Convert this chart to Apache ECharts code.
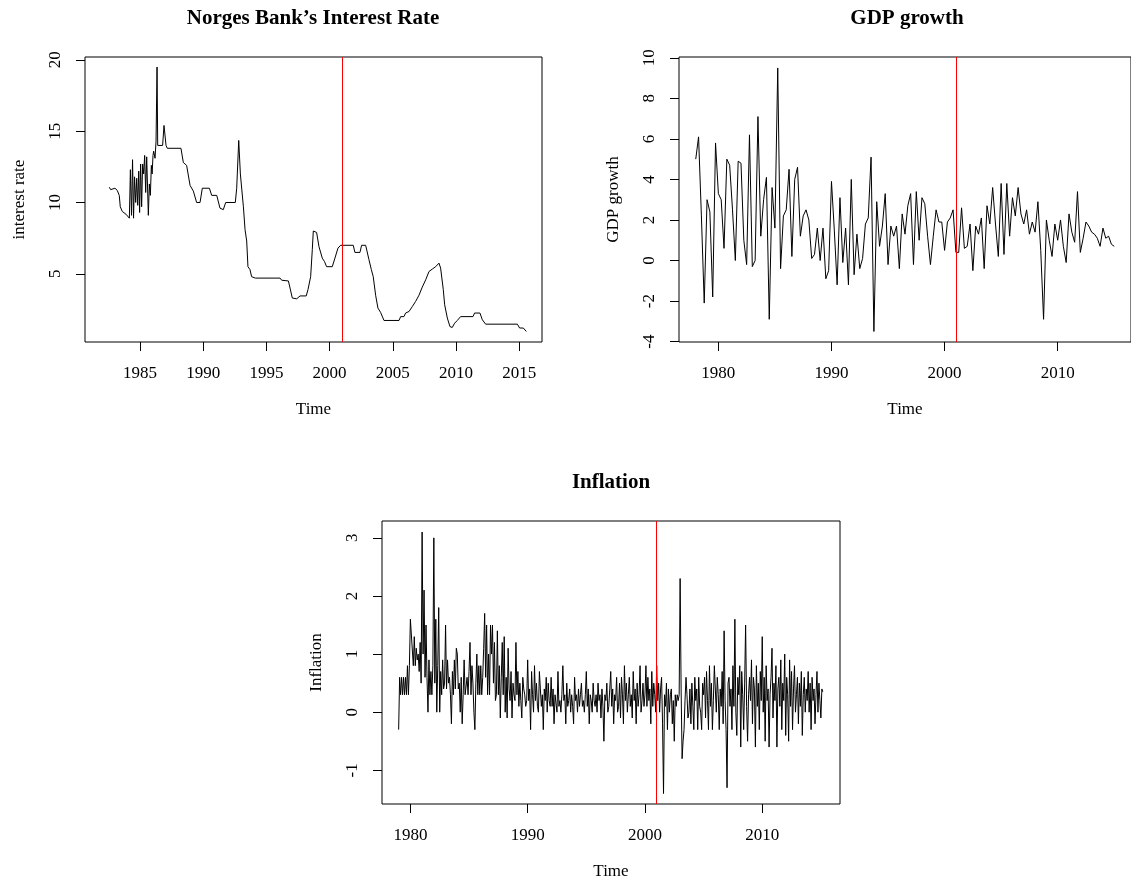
<!DOCTYPE html>
<html>
<head>
<meta charset="utf-8">
<title>Norges Bank</title>
<script src="https://cdn.jsdelivr.net/npm/echarts@6/dist/echarts.min.js"></script>
<style>
  html, body { margin: 0; padding: 0; background: #fff; }
  #main { width: 1131px; height: 881px; }
</style>
</head>
<body>
<div id="main"></div>
<script>
// Norges Bank's interest rate, read at its turning points (year, percent)
var rateTime = [1982.57, 1982.68, 1982.78, 1983.02, 1983.2, 1983.36, 1983.44, 1983.52, 1983.6, 1983.73, 1983.89,
  1984.16, 1984.24, 1984.33, 1984.41, 1984.49, 1984.57, 1984.66, 1984.74, 1984.82, 1984.9, 1984.97,
  1985.05, 1985.13, 1985.21, 1985.29, 1985.37, 1985.45, 1985.53, 1985.66, 1985.74, 1985.82, 1985.9, 1985.96,
  1986.03, 1986.08, 1986.19, 1986.27, 1986.35, 1986.4, 1986.79, 1986.9, 1987.06, 1987.16,
  1988.24, 1988.43, 1988.69, 1988.96, 1989.22, 1989.48, 1989.75, 1989.93, 1990.49, 1990.67,
  1991.07, 1991.33, 1991.59, 1991.78, 1992.54, 1992.65, 1992.81, 1992.94, 1993.18, 1993.31, 1993.44,
  1993.54, 1993.7, 1993.83, 1993.97, 1994.12, 1996.08, 1996.21, 1996.74, 1996.87, 1997.05, 1997.4, 1997.66,
  1998.15, 1998.29, 1998.5, 1998.63, 1998.71, 1998.97, 1999.16, 1999.42, 1999.6, 1999.76,
  2000.21, 2000.42, 2000.66, 2000.87, 2001.87, 2002.0, 2002.4, 2002.53, 2002.85,
  2003.11, 2003.3, 2003.45, 2003.64, 2003.82, 2004.03, 2004.3, 2005.49, 2005.62, 2005.88,
  2006.01, 2006.28, 2006.54, 2006.8, 2007.07, 2007.33, 2007.6, 2007.86, 2008.12, 2008.39, 2008.65, 2008.78, 2008.99,
  2009.1, 2009.31, 2009.52, 2009.7, 2009.89, 2010.1, 2010.36, 2011.34, 2011.47, 2011.89,
  2012.08, 2012.34, 2014.85, 2015.03, 2015.32, 2015.56];
var rateValue = [11.07, 10.9, 11.0, 11.0, 10.85, 10.5, 9.7, 9.6, 9.37, 9.25, 9.18,
  8.9, 12.3, 9.1, 13.0, 8.9, 11.8, 10.0, 11.7, 9.8, 12.2, 9.3,
  12.7, 9.7, 12.7, 12.0, 13.3, 10.7, 13.2, 9.1, 11.3, 10.5, 12.6, 12.0,
  13.3, 13.6, 13.1, 14.3, 19.5, 14.0, 14.0, 15.4, 14.0, 13.8,
  13.8, 12.8, 12.6, 11.2, 10.8, 10.0, 10.0, 11.0, 11.0, 10.5,
  10.5, 9.6, 9.5, 10.0, 10.0, 11.0, 14.35, 12.0, 9.7, 8.1, 7.3,
  5.5, 5.3, 4.8, 4.9, 4.7, 4.7, 4.55, 4.5, 4.0, 3.3, 3.25, 3.45,
  3.45, 3.9, 4.8, 6.7, 8.0, 7.9, 6.9, 6.1, 5.85, 5.5,
  5.5, 6.1, 6.8, 7.0, 7.0, 6.5, 6.5, 7.0, 7.0,
  6.0, 5.3, 4.8, 3.5, 2.6, 2.3, 1.73, 1.73, 2.0, 2.0,
  2.25, 2.36, 2.7, 3.06, 3.5, 4.07, 4.58, 5.16, 5.33, 5.5, 5.75, 5.4, 3.9,
  2.83, 1.9, 1.3, 1.24, 1.54, 1.73, 2.0, 2.0, 2.25, 2.25,
  1.78, 1.47, 1.47, 1.2, 1.2, 0.96];

// quarterly GDP growth, from 1978 Q1
var gdpStart = 1978;
var gdpGrowth = [5.0, 6.1, 2.2, -2.1, 3.0, 2.4, -1.8, 5.8, 3.3, 3.0, 0.6, 5.0, 4.7, 2.5, 0.0, 4.9,
  4.8, 1.0, -0.2, 6.2, -0.3, 0.0, 7.1, 1.2, 3.0, 4.1, -2.9, 3.6, 1.6, 9.5, -0.4, 2.2,
  2.5, 4.5, 0.2, 4.0, 4.6, 1.2, 2.2, 2.5, 2.0, 0.1, 0.3, 1.6, 0.0, 1.6, -0.9, -0.5,
  3.9, 1.5, -1.2, 3.1, -0.1, 1.6, -1.2, 4.0, -0.7, 1.3, -0.4, 0.1, 1.8, 2.1, 5.1, -3.5,
  2.9, 0.7, 1.7, 3.3, -0.2, 1.7, 1.2, 1.7, -0.4, 2.3, 1.3, 2.7, 3.3, -0.2, 3.4, 1.0,
  3.1, 2.8, 1.2, -0.2, 1.2, 2.5, 1.9, 1.9, 0.5, 1.9, 2.1, 2.5, 0.4, 0.4, 2.6, 0.6,
  0.7, 1.8, -0.5, 1.7, 1.3, 2.1, -0.4, 2.7, 1.8, 3.6, 1.8, 0.2, 3.8, 0.3, 3.8, 1.2,
  3.1, 2.2, 3.6, 2.3, 1.8, 2.5, 1.3, 1.9, 1.4, 2.9, 0.5, -2.9, 2.0, 1.0, 0.2, 1.8,
  1.0, 2.0, 0.7, -0.1, 2.3, 1.4, 0.9, 3.4, 0.4, 1.1, 1.9, 1.7, 1.4, 1.3, 1.1, 0.7,
  1.6, 1.1, 1.2, 0.8, 0.7];

// monthly inflation, from January 1979
var inflStart = 1979;
var inflation = [
  -0.3, 0.6, 0.3, 0.6, 0.3, 0.6, 0.3, 0.6, 0.3, 0.8, 0.3, 0.8,
  1.6, 1.6, 1.6, 0.8, 1.3, 0.8, 1.1, 0.9, 1.0, 0.7, 1.2, 0.5,
  3.1, 1.0, 2.1, 0.6, 1.5, 0.6, 0.0, 0.9, 0.3, 0.7, 0.3, 0.8,
  3.0, 0.5, 1.6, 0.0, 0.8, 1.8, 0.0, 0.7, 0.3, 0.9, 0.4, 0.5,
  1.5, 0.4, 0.9, 0.5, 0.6, 0.3, -0.2, 0.7, 0.3, 0.9, 0.4, 1.1,
  1.0, 0.4, 0.5, 0.0, 0.6, -0.2, 0.3, 0.9, 0.3, 0.3, 0.6, 0.3,
  0.7, 1.2, 0.3, 0.8, 0.5, 0.0, -0.3, 0.5, 1.0, 0.3, 0.8, 0.3,
  0.8, 0.3, 0.6, 1.1, 1.7, 0.6, 1.5, 0.3, 1.0, 0.3, 1.5, 1.0,
  1.5, 0.5, 1.2, 0.2, 0.3, 1.4, 0.3, 0.8, -0.1, 0.6, 1.2, 0.3,
  1.3, 0.0, 0.6, -0.1, 1.1, 0.4, 0.2, 0.7, -0.1, 0.5, 0.3, 0.2,
  1.2, 0.3, 0.7, 0.1, 0.5, 0.2, -0.1, 0.6, 0.4, 0.3, 0.1, 0.2,
  0.9, 0.2, 0.4, -0.3, 0.7, 0.3, 0.0, 0.8, 0.2, 0.5, 0.1, 0.0,
  0.7, 0.4, 0.1, 0.3, -0.3, 0.4, 0.2, 0.6, 0.0, 0.5, 0.2, 0.1,
  0.6, 0.1, 0.4, -0.2, 0.3, 0.3, 0.0, 0.7, 0.1, 0.2, 0.0, 0.3,
  0.8, 0.2, 0.3, -0.2, 0.5, 0.1, 0.2, 0.4, 0.0, 0.3, 0.1, -0.2,
  0.6, 0.2, 0.3, 0.0, 0.4, 0.1, 0.3, 0.5, 0.1, 0.2, 0.0, 0.3,
  0.7, 0.1, 0.4, -0.2, 0.3, 0.2, 0.0, 0.5, 0.2, 0.1, 0.3, 0.0,
  0.5, 0.2, 0.3, -0.1, 0.4, 0.1, -0.5, 0.3, 0.2, 0.5, 0.0, 0.1,
  0.4, 0.7, 0.1, 0.4, -0.2, 0.3, 0.2, 0.6, 0.0, 0.1, 0.5, -0.1,
  0.6, 0.3, -0.2, 0.8, 0.2, 0.5, 0.0, 0.3, 0.6, 0.1, 0.3, -0.1,
  0.7, 0.2, 0.4, -0.2, 0.5, 0.1, 0.3, 0.8, 0.0, 0.2, 0.5, 0.1,
  0.3, 0.8, 0.1, 0.6, 0.2, 0.4, -0.2, 0.7, 0.1, 0.5, 0.3, 0.0,
  0.8, 0.2, 0.5, 0.0, 0.4, 0.6, -0.2, -1.4, 0.3, 0.1, 0.5, -0.3,
  0.4, 0.0, 0.3, 0.4, -0.2, 0.2, -0.5, 0.3, 0.1, 0.3, 0.2, 0.3,
  2.3, 0.4, -0.8, -0.5, -0.3, 0.2, 0.6, 0.3, -0.1, 0.0, 0.4, -0.2,
  0.5, 0.1, -0.3, 0.6, 0.2, 0.4, -0.3, 0.6, 0.1, 0.0, -0.3, 0.5,
  0.3, 0.6, -0.1, 0.7, 0.2, -0.3, 0.8, 0.1, 0.5, -0.3, 0.2, 0.8,
  0.8, 0.0, 0.6, 0.3, -0.3, 0.4, 0.1, 0.7, -0.2, 1.4, 0.2, -0.3,
  -1.3, 0.5, 0.6, 0.1, 0.4, -0.3, 0.8, 0.1, 1.6, 0.0, -0.4, 0.6,
  0.3, 0.8, -0.6, 0.7, 0.3, -0.3, 0.5, 1.5, 0.1, -0.5, 0.3, 0.6,
  0.2, 0.9, -0.2, 0.6, 0.4, -0.6, 0.8, 0.1, 0.5, -0.3, 0.7, 0.2,
  1.3, 0.0, 0.6, -0.5, 0.8, 0.2, 0.4, -0.6, 0.3, 0.6, 1.1, -0.1,
  0.5, 0.2, 0.8, -0.6, 0.4, 0.6, 0.1, 0.9, -0.3, 0.5, 0.2, 1.0,
  -0.4, 0.6, 0.3, -0.5, 0.9, 0.1, 0.7, -0.3, 0.4, 0.8, 0.0, 0.3,
  0.6, -0.2, 0.5, 0.1, 0.7, -0.4, 0.3, 0.6, 0.0, 0.4, 0.2, 0.7,
  0.0, 0.5, -0.3, 0.6, 0.2, 0.4, -0.2, 0.3, 0.7, 0.0, 0.5, 0.2,
  -0.1, 0.4, 0.35];

// inflation target introduced
var regimeChange = 2001;

var yearTicksTop = [1985, 1990, 1995, 2000, 2005, 2010, 2015];
var decadeTicks = [1980, 1990, 2000, 2010];
var rateTicks = [5, 10, 15, 20];
var gdpTicks = [-4, -2, 0, 2, 4, 6, 8, 10];
var inflTicks = [-1, 0, 1, 2, 3];

var FONT = 'Liberation Serif';
var FS = 17;

function toPairs(times, values) {
  return values.map(function (v, i) { return [times[i], v]; });
}
function fromStart(start, freq, values) {
  return values.map(function (v, i) { return [start + i / freq, v]; });
}
function plain(v) { return String(v); }

function xAxis(grid, min, max, ticks) {
  return {
    type: 'value', gridIndex: grid, min: min, max: max,
    name: 'Time', nameLocation: 'middle', nameGap: 59,
    nameTextStyle: { fontFamily: FONT, fontSize: FS, color: '#000' },
    axisLine: { show: false, onZero: false },
    axisTick: { show: true, length: 9, customValues: ticks, lineStyle: { color: '#000', width: 1 } },
    axisLabel: { customValues: ticks, formatter: plain, margin: 23, fontFamily: FONT, fontSize: FS, color: '#000' },
    splitLine: { show: false }
  };
}
function yAxis(grid, min, max, ticks, name) {
  return {
    type: 'value', gridIndex: grid, min: min, max: max,
    name: name, nameLocation: 'middle', nameGap: 57, nameRotate: 90,
    nameTextStyle: { fontFamily: FONT, fontSize: FS, color: '#000' },
    axisLine: { show: false, onZero: false },
    axisTick: { show: true, length: 9, customValues: ticks, lineStyle: { color: '#000', width: 1 } },
    axisLabel: { customValues: ticks, formatter: plain, rotate: 90, margin: 21, fontFamily: FONT, fontSize: FS, color: '#000' },
    splitLine: { show: false }
  };
}
function lineSeries(idx, data) {
  return {
    type: 'line', xAxisIndex: idx, yAxisIndex: idx, data: data,
    symbol: 'none', showSymbol: false, silent: true,
    lineStyle: { color: '#000', width: 1 },
    markLine: {
      silent: true, symbol: 'none', label: { show: false },
      lineStyle: { color: '#ff0000', width: 1, type: 'solid' },
      data: [{ xAxis: regimeChange }]
    }
  };
}
function title(text, x, y) {
  return {
    type: 'text', x: x, y: y,
    style: { text: text, fill: '#000', font: 'bold 21px "' + FONT + '"',
      textAlign: 'center', textVerticalAlign: 'middle' }
  };
}

var chart = echarts.init(document.getElementById('main'));
chart.setOption({
  animation: false,
  backgroundColor: '#fff',
  grid: [
    { left: 85, top: 57, width: 457, height: 285, show: true, borderColor: '#000', borderWidth: 1, backgroundColor: 'transparent' },
    { left: 679, top: 57, width: 458, height: 285, show: true, borderColor: '#000', borderWidth: 1, backgroundColor: 'transparent' },
    { left: 382, top: 521, width: 458, height: 285, show: true, borderColor: '#000', borderWidth: 1, backgroundColor: 'transparent' }
  ],
  xAxis: [
    xAxis(0, 1980.65, 2016.8, yearTicksTop),
    xAxis(1, 1976.52, 2016.48, decadeTicks),
    xAxis(2, 1977.58, 2016.63, decadeTicks)
  ],
  yAxis: [
    yAxis(0, 0.22, 20.2, rateTicks, 'interest rate'),
    yAxis(1, -4.02, 10.04, gdpTicks, 'GDP growth'),
    yAxis(2, -1.58, 3.29, inflTicks, 'Inflation')
  ],
  series: [
    lineSeries(0, toPairs(rateTime, rateValue)),
    lineSeries(1, fromStart(gdpStart, 4, gdpGrowth)),
    lineSeries(2, fromStart(inflStart, 12, inflation))
  ],
  graphic: [
    title('Norges Bank\u2019s Interest Rate', 313, 19),
    title('GDP growth', 907, 19),
    title('Inflation', 611, 483)
  ]
});
</script>
</body>
</html>
